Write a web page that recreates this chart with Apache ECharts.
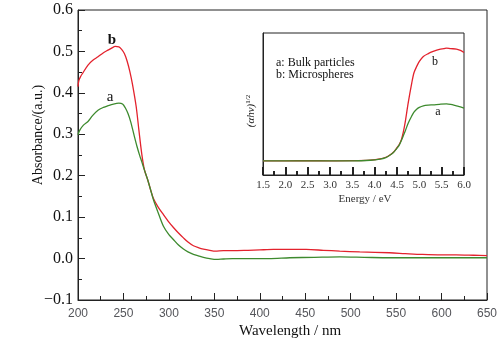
<!DOCTYPE html>
<html><head><meta charset="utf-8">
<script src="https://cdn.jsdelivr.net/npm/echarts@6/dist/echarts.min.js"></script>
<style>html,body{margin:0;padding:0;background:#fff}#c{width:504px;height:349px}</style>
</head><body><div id="c"></div>
<script>
// Main panel: wavelength (nm) and absorbance
const wlB = [200,201,203,205,211,216,222,228,233,237,241,245,248,251,254,257,260,264,267,270,273,277,280,283,288,294,300,305,310,316,321,327,333,338,345,351,360,370,387,400,415,430,451,470,488,510,543,560,579,600,616,635,650];
const absB = [0.415,0.43,0.44,0.447,0.467,0.478,0.487,0.497,0.503,0.508,0.512,0.511,0.505,0.495,0.477,0.452,0.42,0.367,0.31,0.255,0.215,0.188,0.165,0.145,0.125,0.106,0.088,0.075,0.063,0.05,0.04,0.031,0.026,0.023,0.02,0.018,0.019,0.019,0.02,0.021,0.022,0.022,0.022,0.02,0.018,0.016,0.014,0.012,0.01,0.009,0.009,0.008,0.007];
const wlA = [200,202,206,211,216,222,228,233,239,245,249,252,255,258,262,265,268,270,273,277,280,283,288,294,300,305,310,316,321,327,333,338,345,352,360,370,387,410,433,460,488,515,543,570,600,625,650];
const absA = [0.299,0.31,0.322,0.331,0.345,0.358,0.365,0.369,0.373,0.375,0.373,0.364,0.35,0.33,0.295,0.27,0.248,0.235,0.214,0.188,0.165,0.142,0.112,0.078,0.058,0.046,0.034,0.023,0.016,0.01,0.006,0.003,0.0,-0.002,-0.001,0,0,0,0.002,0.003,0.004,0.003,0.002,0.002,0.002,0.002,0.002];
// Inset: energy (eV) and (αhν)^1/2 (arbitrary units)
const eB = [1.5,2.0,2.5,3.0,3.5,3.9,4.12,4.25,4.34,4.42,4.49,4.55,4.60,4.64,4.68,4.75,4.83,4.88,4.94,5.0,5.09,5.2,5.31,5.45,5.55,5.61,5.7,5.83,5.92,6.0];
const yB = [0.1,0.1,0.101,0.1,0.101,0.105,0.113,0.125,0.141,0.16,0.188,0.215,0.25,0.3,0.365,0.506,0.647,0.72,0.764,0.8,0.835,0.855,0.87,0.885,0.89,0.894,0.89,0.887,0.877,0.863];
const eA = [1.5,2.0,2.5,3.0,3.5,3.9,4.12,4.25,4.34,4.42,4.49,4.55,4.60,4.64,4.68,4.75,4.83,4.88,4.94,5.0,5.09,5.2,5.31,5.45,5.61,5.7,5.83,5.92,6.0];
const yA = [0.1,0.1,0.1,0.1,0.1,0.104,0.112,0.123,0.139,0.158,0.185,0.21,0.245,0.275,0.306,0.365,0.416,0.443,0.463,0.476,0.487,0.492,0.494,0.498,0.501,0.497,0.487,0.48,0.471];
const xTicks = [200,650,50];
const yTicks = [-0.1,0.6,0.1];
const eTicks = [1.5,6.0,0.5];

const RED = '#e3222d', GREEN = '#3d8a2e', F = 'Liberation Serif', AX = '#222';
const pair = (xs, ys) => xs.map((x, i) => [x, ys[i]]);

const chart = echarts.init(document.getElementById('c'));
chart.setOption({
  animation: false,
  grid: [
    {left: 78, right: 17, top: 10, bottom: 49, show: true, borderColor: AX},
    {left: 263, right: 40, top: 33, bottom: 174, show: true, borderColor: AX}
  ],
  xAxis: [
    {gridIndex: 0, type: 'value', min: xTicks[0], max: xTicks[1], interval: xTicks[2],
     axisLine: {onZero: false, lineStyle: {color: AX}}, axisTick: {show: true, inside: true, length: 7, lineStyle: {color: AX}},
     minorTick: {show: true, splitNumber: 2, length: 4, lineStyle: {color: AX}},
     splitLine: {show: false}},
    {gridIndex: 1, type: 'value', min: eTicks[0], max: eTicks[1], interval: eTicks[2],
     axisLine: {onZero: false, lineStyle: {color: AX}}, axisTick: {show: true, inside: true, length: 8, lineStyle: {color: AX, width: 2}},
     minorTick: {show: true, splitNumber: 2, length: 4, lineStyle: {color: AX, width: 2}},
     axisLabel: {margin: 5, fontFamily: F, fontSize: 11, color: '#333', formatter: v => v.toFixed(1)},
     splitLine: {show: false}}
  ],
  yAxis: [
    {gridIndex: 0, type: 'value', min: yTicks[0], max: yTicks[1], interval: yTicks[2],
     axisLine: {show: true, onZero: false, lineStyle: {color: AX}}, axisTick: {show: true, inside: true, length: 7, lineStyle: {color: AX}},
     minorTick: {show: true, splitNumber: 2, length: 4, lineStyle: {color: AX}},
     axisLabel: {margin: 5, fontFamily: F, fontSize: 16, color: '#111', formatter: v => (v < 0 ? '\u22120.1' : v.toFixed(1))},
     splitLine: {show: false}},
    {gridIndex: 1, type: 'value', min: 0, max: 1,
     axisLine: {show: true, onZero: false, lineStyle: {color: AX}}, axisTick: {show: false}, axisLabel: {show: false}, splitLine: {show: false}}
  ],
  series: [
    {type: 'line', xAxisIndex: 0, yAxisIndex: 0, data: pair(wlB, absB), showSymbol: false, smooth: 0.3,
     lineStyle: {color: RED, width: 1.3}},
    {type: 'line', xAxisIndex: 0, yAxisIndex: 0, data: pair(wlA, absA), showSymbol: false, smooth: 0.3,
     lineStyle: {color: GREEN, width: 1.3}},
    {type: 'line', xAxisIndex: 1, yAxisIndex: 1, data: pair(eB, yB), showSymbol: false, smooth: 0.3,
     lineStyle: {color: RED, width: 1.3}},
    {type: 'line', xAxisIndex: 1, yAxisIndex: 1, data: pair(eA, yA), showSymbol: false, smooth: 0.3,
     lineStyle: {color: GREEN, width: 1.3}}
  ],
  graphic: [
    {type: 'text', x: 38, y: 135, rotation: Math.PI / 2, z: 10,
     style: {text: 'Absorbance/(a.u.)', font: '14px "Liberation Serif"', fill: '#111', textAlign: 'center', textVerticalAlign: 'middle'}},
    {type: 'text', x: 290, y: 331, z: 10,
     style: {text: 'Wavelength / nm', font: '15px "Liberation Serif"', fill: '#111', textAlign: 'center', textVerticalAlign: 'middle'}},
    {type: 'text', x: 112, y: 40, z: 10,
     style: {text: 'b', font: 'bold 15px "Liberation Serif"', fill: '#111', textAlign: 'center', textVerticalAlign: 'middle'}},
    {type: 'text', x: 110, y: 97, z: 10,
     style: {text: 'a', font: '15px "Liberation Serif"', fill: '#111', textAlign: 'center', textVerticalAlign: 'middle'}},
    {type: 'text', x: 365, y: 199, z: 10,
     style: {text: 'Energy / eV', font: '11px "Liberation Serif"', fill: '#333', textAlign: 'center', textVerticalAlign: 'middle'}},
    {type: 'text', x: 276, y: 63, z: 10,
     style: {text: 'a: Bulk particles', font: '12px "Liberation Serif"', fill: '#111', textAlign: 'left', textVerticalAlign: 'middle'}},
    {type: 'text', x: 276, y: 75, z: 10,
     style: {text: 'b: Microspheres', font: '12px "Liberation Serif"', fill: '#111', textAlign: 'left', textVerticalAlign: 'middle'}},
    {type: 'text', x: 435, y: 62, z: 10,
     style: {text: 'b', font: '12px "Liberation Serif"', fill: '#111', textAlign: 'center', textVerticalAlign: 'middle'}},
    {type: 'text', x: 438, y: 112, z: 10,
     style: {text: 'a', font: '12px "Liberation Serif"', fill: '#111', textAlign: 'center', textVerticalAlign: 'middle'}},
    {type: 'text', x: 251, y: 111, rotation: Math.PI / 2, z: 10,
     style: {text: '(\u03b1h\u03bd){s|1/2}', font: 'italic 11px "Liberation Serif"', fill: '#111', textAlign: 'center', textVerticalAlign: 'middle',
       rich: {s: {fontSize: 7, fontFamily: F, verticalAlign: 'top', padding: [0, 0, 6, 0]}}}}
  ]
});
</script></body></html>
